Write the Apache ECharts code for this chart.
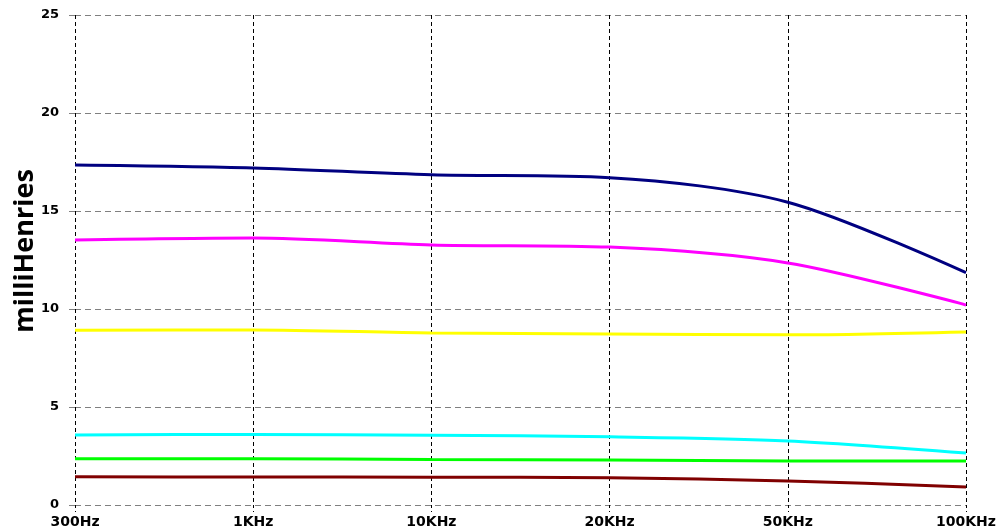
<!DOCTYPE html>
<html>
<head>
<meta charset="utf-8">
<script src="https://cdn.jsdelivr.net/npm/echarts@6/dist/echarts.min.js"></script>
<style>html,body{margin:0;padding:0;background:#fff;}#c{width:1000px;height:531px;}</style>
</head>
<body>
<div id="c"></div>
<script>
var categories = ['300Hz', '1KHz', '10KHz', '20KHz', '50KHz', '100KHz'];
var navy = [17.35, 17.2, 16.85, 16.7, 15.45, 11.85];
var magenta = [13.52, 13.62, 13.27, 13.16, 12.35, 10.2];
var yellow = [8.92, 8.93, 8.78, 8.73, 8.68, 8.83];
var cyan = [3.57, 3.6, 3.56, 3.48, 3.27, 2.65];
var green = [2.36, 2.36, 2.32, 2.3, 2.25, 2.25];
var darkred = [1.44, 1.43, 1.42, 1.39, 1.23, 0.92];
var yTicks = [0, 5, 10, 15, 20, 25];
var yTitle = 'milliHenries';

var chart = echarts.init(document.getElementById('c'));
function s(data, color) {
  return { type: 'line', data: data, smooth: 0.3, symbol: 'none',
    lineStyle: { color: color, width: 3 }, itemStyle: { color: color } };
}
chart.setOption({
  animation: false,
  backgroundColor: '#ffffff',
  grid: { left: 75, right: 34, top: 15, bottom: 26 },
  graphic: [{
    type: 'text', x: 25, y: 251, rotation: Math.PI / 2,
    style: { text: yTitle, fill: '#000', fontWeight: 'bold', fontSize: 27,
      fontFamily: 'Open Sans, sans-serif', align: 'center', verticalAlign: 'middle' }
  }],
  xAxis: {
    type: 'category', data: categories, boundaryGap: false,
    axisLine: { show: false },
    axisTick: { show: true, length: 7, lineStyle: { color: '#000', type: [3, 3] } },
    axisLabel: { color: '#000', fontWeight: 'bold', fontSize: 14, fontFamily: 'DejaVu Sans', margin: 10 },
    splitLine: { show: true, lineStyle: { color: '#000', type: [4, 3], width: 1 } }
  },
  yAxis: {
    type: 'value', min: yTicks[0], max: yTicks[yTicks.length - 1], interval: 5,
    axisLine: { show: false },
    axisTick: { show: true, length: 6, lineStyle: { color: '#808080' } },
    axisLabel: { color: '#000', fontWeight: 'bold', fontSize: 13, fontFamily: 'DejaVu Sans', margin: 16 },
    splitLine: { show: true, lineStyle: { color: '#808080', type: [6, 4], width: 1 } }
  },
  series: [
    s(navy, '#000080'),
    s(magenta, '#ff00ff'),
    s(yellow, '#ffff00'),
    s(cyan, '#00ffff'),
    s(green, '#00ff00'),
    s(darkred, '#800000')
  ]
});
</script>
</body>
</html>
